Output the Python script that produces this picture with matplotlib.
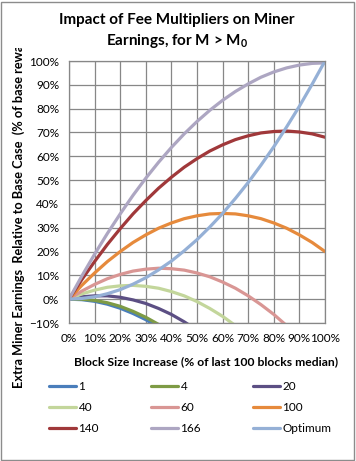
import matplotlib
matplotlib.use("Agg")
import matplotlib.pyplot as plt
from matplotlib.ticker import PercentFormatter, MultipleLocator
from matplotlib.patches import Rectangle

# ---- data (percent) ----
x_full = [0, 5, 10, 15, 20, 25, 30, 35, 40, 45, 50, 55, 60, 65, 70, 75, 80, 85, 90, 95, 100]
m1 = [0, -0.2, -0.9, -2.1, -3.8, -6.0, -8.6, -11.8]
m4 = [0, 0.0, -0.5, -1.5, -3.0, -5.1, -7.6, -10.6]
m20 = [0, 1.0, 1.4, 1.4, 0.8, -0.3, -1.8, -3.9, -6.4, -9.5, -13.0]
m40 = [0, 2.2, 3.8, 5.0, 5.6, 5.8, 5.4, 4.6, 3.2, 1.4, -1.0, -3.9, -7.2, -11.1]
m60 = [0, 3.4, 6.2, 8.6, 10.4, 11.8, 12.6, 13.0, 12.8, 12.2, 11.0, 9.4, 7.2, 4.6, 1.4, -2.3, -6.4, -11.1]
m100 = [0, 5.8, 11.0, 15.8, 20.0, 23.8, 27.0, 29.8, 32.0, 33.8, 35.0, 35.8, 36.0, 35.8, 35.0, 33.8, 32.0, 29.8, 27.0, 23.8, 20.0]
m140 = [0, 8.2, 15.8, 23.0, 29.6, 35.8, 41.4, 46.6, 51.2, 55.4, 59.0, 62.2, 64.8, 67.0, 68.6, 69.8, 70.4, 70.6, 70.2, 69.4, 68.0]
m166 = [0, 9.7, 18.9, 27.6, 35.8, 43.6, 50.8, 57.5, 63.7, 69.4, 74.6, 79.3, 83.5, 87.2, 90.4, 93.2, 95.4, 97.1, 98.3, 99.0, 99.2]
optimum = [0, 0.3, 1.0, 2.3, 4.0, 6.3, 9.0, 12.3, 16.0, 20.3, 25.0, 30.3, 36.0, 42.3, 49.0, 56.3, 64.0, 72.3, 81.0, 90.3, 100.0]

labels = ["1", "4", "20", "40", "60", "100", "140", "166", "Optimum"]
series = [m1, m4, m20, m40, m60, m100, m140, m166, optimum]
colors = ["#4A7EBB", "#7E9B45", "#5C4F84", "#C3D69B", "#D99694",
          "#E68A3C", "#A0383A", "#ADA6C2", "#95B0D6"]

plt.rcParams['font.family'] = ['Lato', 'DejaVu Sans']
plt.rcParams['mathtext.fontset'] = 'custom'
plt.rcParams['mathtext.rm'] = 'Lato:bold'
plt.rcParams['mathtext.bf'] = 'Lato:bold'
plt.rcParams['mathtext.it'] = 'Lato:bold'

W, H = 356, 461
fig = plt.figure(figsize=(W / 100, H / 100), dpi=100)
L, R, T, B = 69, 325, 61, 323
ax = fig.add_axes([L / W, 1 - B / H, (R - L) / W, (B - T) / H])

handles = {}
for lab, ys, c in zip(labels, series, colors):
    h, = ax.plot(x_full[:len(ys)], ys, color=c, lw=2.3, solid_capstyle='round')
    handles[lab] = h

ax.set_xlim(0, 100)
ax.set_ylim(-10, 100)
ax.xaxis.set_major_locator(MultipleLocator(10))
ax.yaxis.set_major_locator(MultipleLocator(10))
ax.xaxis.set_major_formatter(PercentFormatter(decimals=0))
ax.yaxis.set_major_formatter(PercentFormatter(decimals=0))
ax.grid(True, color='#878787', lw=0.9)
ax.set_axisbelow(True)
for s in ax.spines.values():
    s.set_color('#878787')
    s.set_linewidth(0.9)
ax.tick_params(length=0, labelsize=8.5, colors='black', pad=7)

# axis labels
fig.text(206 / W, 1 - 362 / H, "Block Size Increase (% of last 100 blocks median)",
         ha='center', va='center', fontsize=8.7, fontweight='bold')
fig.text(19 / W, 1 - 388 / H,
         "Extra Miner Earnings  Relative to Base Case  (% of base reward)",
         rotation=90, ha='center', va='bottom', fontsize=9.2, fontweight='bold')
# clip the overflowing part of the y label (as in the original)
fig.patches.append(Rectangle((6 / W, 1 - 48 / H), 26 / W, 44 / H, transform=fig.transFigure,
                             facecolor='white', edgecolor='none', zorder=10))

# title
fig.text(177 / W, 1 - 20 / H, "Impact of Fee Multipliers on Miner",
         ha='center', va='center', fontsize=11, fontweight='bold', zorder=11)
fig.text(177 / W, 1 - 41 / H, r"Earnings, for M > M$_{0}$",
         ha='center', va='center', fontsize=11, fontweight='bold', zorder=11)

# legend (row-major layout in reference -> column-major order here)
order = ["1", "40", "140", "4", "60", "166", "20", "100", "Optimum"]
fig.legend([handles[k] for k in order], order, ncol=3, loc='upper left',
           bbox_to_anchor=(49 / W, 1 - 381 / H), frameon=False, fontsize=8.5,
           handlelength=2.3, handletextpad=0.2, columnspacing=4.4,
           labelspacing=0.85, borderpad=0, borderaxespad=0)

# chart border
fig.patches.append(Rectangle((1 / W, 1 / H), (W - 3) / W, (H - 3) / H, transform=fig.transFigure,
                             facecolor='none', edgecolor='#8C8C8C', lw=1, zorder=12))

fig.savefig("out.png", dpi=100)
